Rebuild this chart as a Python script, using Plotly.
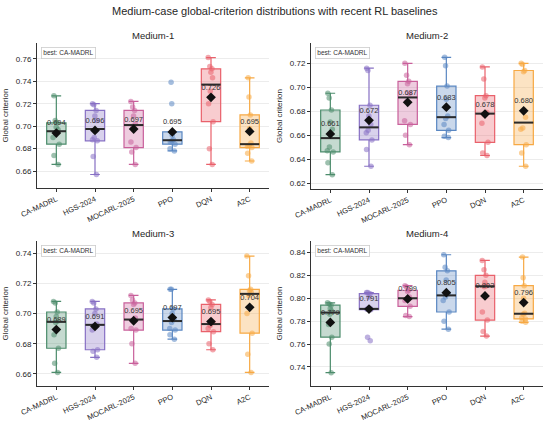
import numpy as np
import plotly.graph_objects as go

methods = ["CA-MADRL", "HGS-2024", "MOCARL-2025", "PPO", "DQN", "A2C"]
colors = ["#4c8c6c", "#8770c4", "#c9609b", "#5a87c2", "#e9616b", "#f7a944"]
scenarios = ["Medium-1", "Medium-2", "Medium-3", "Medium-4"]

medium1 = [
    [0.666, 0.674, 0.684, 0.690, 0.694, 0.697, 0.699, 0.703, 0.705, 0.727],
    [0.657, 0.673, 0.687, 0.688, 0.690, 0.705, 0.709, 0.714, 0.719, 0.720],
    [0.666, 0.677, 0.681, 0.686, 0.700, 0.702, 0.709, 0.714, 0.717, 0.722],
    [0.678, 0.680, 0.684, 0.686, 0.687, 0.688, 0.692, 0.695, 0.720, 0.739],
    [0.666, 0.680, 0.704, 0.720, 0.731, 0.743, 0.748, 0.751, 0.753, 0.761],
    [0.669, 0.676, 0.681, 0.682, 0.683, 0.685, 0.698, 0.710, 0.726, 0.743],
]
medium2 = [
    [0.627, 0.637, 0.646, 0.647, 0.650, 0.665, 0.671, 0.681, 0.691, 0.695],
    [0.634, 0.648, 0.656, 0.662, 0.664, 0.669, 0.676, 0.685, 0.714, 0.716],
    [0.652, 0.660, 0.669, 0.672, 0.688, 0.695, 0.703, 0.705, 0.710, 0.720],
    [0.658, 0.659, 0.664, 0.669, 0.674, 0.676, 0.690, 0.701, 0.718, 0.725],
    [0.643, 0.645, 0.654, 0.670, 0.677, 0.679, 0.691, 0.693, 0.707, 0.717],
    [0.634, 0.645, 0.652, 0.665, 0.666, 0.675, 0.713, 0.714, 0.719, 0.720],
]
medium3 = [
    [0.661, 0.667, 0.677, 0.686, 0.694, 0.695, 0.698, 0.701, 0.707, 0.708],
    [0.671, 0.675, 0.676, 0.689, 0.692, 0.693, 0.700, 0.703, 0.707, 0.708],
    [0.667, 0.680, 0.689, 0.690, 0.695, 0.697, 0.706, 0.707, 0.709, 0.712],
    [0.683, 0.686, 0.689, 0.690, 0.694, 0.696, 0.700, 0.703, 0.716, 0.716],
    [0.676, 0.680, 0.688, 0.690, 0.692, 0.694, 0.704, 0.706, 0.708, 0.709],
    [0.661, 0.673, 0.687, 0.700, 0.712, 0.714, 0.715, 0.716, 0.725, 0.738],
]
medium4 = [
    [0.735, 0.760, 0.766, 0.777, 0.786, 0.789, 0.791, 0.794, 0.795, 0.796],
    [0.763, 0.766, 0.790, 0.7905, 0.7905, 0.791, 0.801, 0.804, 0.805, 0.805],
    [0.784, 0.785, 0.793, 0.798, 0.799, 0.801, 0.806, 0.807, 0.810, 0.811],
    [0.773, 0.780, 0.788, 0.798, 0.801, 0.804, 0.816, 0.824, 0.827, 0.838],
    [0.767, 0.771, 0.781, 0.788, 0.810, 0.811, 0.814, 0.820, 0.825, 0.833],
    [0.779, 0.780, 0.782, 0.783, 0.786, 0.787, 0.800, 0.811, 0.818, 0.836],
]
all_data = [medium1, medium2, medium3, medium4]

y_ranges = [[0.645, 0.774], [0.615, 0.737], [0.652, 0.748], [0.7234, 0.850]]
y_ticks = [
    [0.66, 0.68, 0.70, 0.72, 0.74, 0.76],
    [0.62, 0.64, 0.66, 0.68, 0.70, 0.72],
    [0.66, 0.68, 0.70, 0.72, 0.74],
    [0.74, 0.76, 0.78, 0.80, 0.82, 0.84],
]

W, H = 550, 422
x_doms = [[37 / W, 269 / W], [311 / W, 543 / W], [37 / W, 269 / W], [311 / W, 543 / W]]
y_doms = [[1 - 188 / H, 1 - 43 / H], [1 - 189 / H, 1 - 43 / H],
          [1 - 386 / H, 1 - 241 / H], [1 - 386 / H, 1 - 241 / H]]

FONT = "Liberation Sans, Arial, sans-serif"
TXT = "#262626"


def rgba(hexc, a):
    h = hexc.lstrip("#")
    r, g, b = int(h[0:2], 16), int(h[2:4], 16), int(h[4:6], 16)
    return f"rgba({r},{g},{b},{a})"


fig = go.Figure()
annotations = []

for p, data in enumerate(all_data):
    sfx = "" if p == 0 else str(p + 1)
    xa, ya = "x" + sfx, "y" + sfx
    for i, (vals, c) in enumerate(zip(data, colors)):
        vals = np.array(vals)
        fig.add_trace(go.Box(
            y=vals, x=[i] * len(vals), xaxis=xa, yaxis=ya,
            width=0.5, whiskerwidth=0.5,
            fillcolor=rgba(c, 0.32), line=dict(color=c, width=1.2),
            boxpoints="all", jitter=0.4, pointpos=0,
            marker=dict(color=rgba(c, 0.55), size=5.5, line=dict(width=0)),
            quartilemethod="linear", showlegend=False, hoverinfo="y",
        ))
        med = float(np.median(vals))
        fig.add_trace(go.Scatter(
            x=[i - 0.25, i + 0.25], y=[med, med], xaxis=xa, yaxis=ya,
            mode="lines", line=dict(color="#2b2b2b", width=2),
            showlegend=False, hoverinfo="skip",
        ))
        mean = float(np.mean(vals))
        fig.add_trace(go.Scatter(
            x=[i], y=[mean], xaxis=xa, yaxis=ya,
            mode="markers+text", text=[f"{mean:.3f}"], textposition="top center",
            textfont=dict(size=7.5, color="#333333", family=FONT),
            marker=dict(symbol="diamond", size=7.5, color="#111111"),
            showlegend=False, hoverinfo="skip",
        ))
    annotations.append(dict(
        text=scenarios[p], xref="paper", yref="paper",
        x=(x_doms[p][0] + x_doms[p][1]) / 2, y=y_doms[p][1], yshift=0,
        xanchor="center", yanchor="bottom", showarrow=False,
        font=dict(size=9.5, color=TXT, family=FONT),
    ))
    annotations.append(dict(
        text="best: CA-MADRL", xref="paper", yref="paper",
        x=x_doms[p][0], y=y_doms[p][1], xshift=4, yshift=-4,
        xanchor="left", yanchor="top", showarrow=False,
        font=dict(size=6.5, color="#333333", family=FONT),
        bgcolor="white", bordercolor="#cccccc", borderwidth=0.8, borderpad=1.5,
    ))

annotations.append(dict(
    text="Medium-case global-criterion distributions with recent RL baselines",
    xref="paper", yref="paper", x=0.5, y=1, yshift=-3,
    xanchor="center", yanchor="top", showarrow=False,
    font=dict(size=11, color=TXT, family=FONT),
))

layout = dict(
    width=W, height=H, margin=dict(l=0, r=0, t=0, b=0, autoexpand=False),
    paper_bgcolor="white", plot_bgcolor="white",
    boxmode="overlay", annotations=annotations,
    font=dict(family=FONT, color=TXT),
)
for p in range(4):
    sfx = "" if p == 0 else str(p + 1)
    layout["xaxis" + sfx] = dict(
        domain=x_doms[p], anchor="y" + sfx, range=[-0.5, 5.5], automargin=False,
        tickmode="array", tickvals=list(range(len(methods))), ticktext=methods,
        tickangle=-25, tickfont=dict(size=7.5, color=TXT, family=FONT),
        showline=True, linecolor="#333333", linewidth=1,
        ticks="outside", ticklen=3, tickcolor="#333333",
        showgrid=False, zeroline=False,
    )
    layout["yaxis" + sfx] = dict(
        domain=y_doms[p], anchor="x" + sfx, range=y_ranges[p], automargin=False,
        tickmode="array", tickvals=y_ticks[p], tickformat=".2f",
        tickfont=dict(size=8, color=TXT, family=FONT),
        title=dict(text="Global criterion", font=dict(size=8, color=TXT, family=FONT), standoff=6),
        showline=True, linecolor="#333333", linewidth=1,
        ticks="outside", ticklen=3, tickcolor="#333333",
        showgrid=True, gridcolor="#ececec", gridwidth=0.8, zeroline=False,
    )
fig.update_layout(**layout)
fig.write_html("out.html", config={"displayModeBar": False},
               post_script="document.body.style.margin='0px';")
